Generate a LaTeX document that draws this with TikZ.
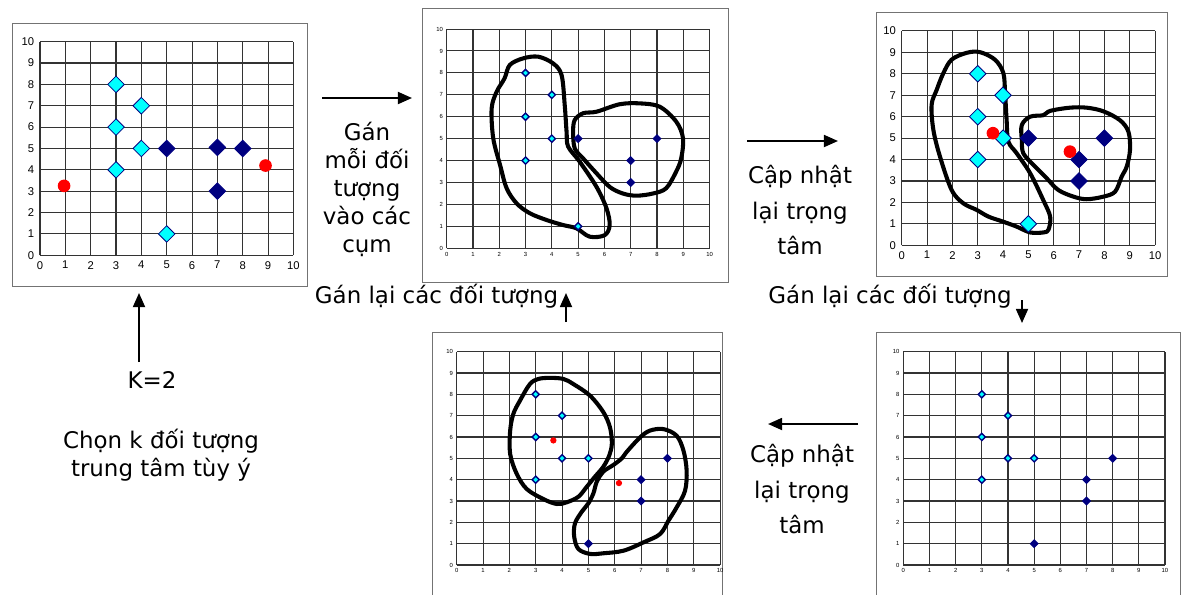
\documentclass[tikz,border=0pt]{standalone}
\usepackage{fontspec}
\setmainfont{DejaVu Sans}
\newfontfamily\tickfont{Liberation Sans}
\usetikzlibrary{shapes.geometric,arrows.meta}
\definecolor{navypt}{RGB}{0,0,128}
\definecolor{cyanpt}{RGB}{0,255,255}
\definecolor{redpt}{RGB}{255,0,0}
\tikzset{
  gridln/.style={black!80,line width=0.75pt},
  frm/.style={draw=black!55,line width=0.7pt},
  tick/.style={inner sep=0pt},
  bigcy/.style={diamond,draw=navypt,fill=cyanpt,line width=0.6pt,inner sep=0pt,minimum size=12pt},
  bignv/.style={bigcy,fill=navypt},
  bigctr/.style={circle,fill=redpt,inner sep=0pt,minimum size=9pt},
  smcy/.style={diamond,draw=navypt,fill=cyanpt,line width=1pt,inner sep=0pt,minimum size=5.5pt},
  smnv/.style={smcy,fill=navypt},
  smctr/.style={circle,fill=redpt,inner sep=0pt,minimum size=4.5pt},
  blob/.style={line width=2.9pt,line join=round},
  arr/.style={->,line width=1.4pt},
  lbl/.style={align=center,font=\fontsize{16.3}{20}\selectfont},
  lblwide/.style={align=center,font=\fontsize{16.3}{25.5}\selectfont},
}
% grid of one chart: #1 name, #2 tick font, #3 tick gap
\newcommand{\kgrid}[3]{%
  \foreach \i in {0,...,10}{
    \draw[gridln] (\i,0) -- (\i,10);
    \draw[gridln] (0,\i) -- (10,\i);
    \node[tick,font=#2,left=#3] (#1y\i) at (0,\i) {\i};
    \node[tick,font=#2,below=#3] (#1x\i) at (\i,0) {\i};
  }}
\newcommand{\bigfont}{\tickfont\fontsize{8}{8}\selectfont}
\newcommand{\smfont}{\tickfont\fontsize{4.2}{4.2}\selectfont}
\begin{document}
\begin{tikzpicture}[x=0.025cm,y=-0.025cm,>={Triangle[length=10pt,width=8.5pt]}]
\useasboundingbox (0,0) rectangle (1184,594);
% frames
\draw[frm] (12.7,23) rectangle (307.7,286.7);
\draw[frm] (422,8) rectangle (728,282);
\draw[frm] (876.7,12.7) rectangle (1167.7,276.7);
\draw[frm] (432.7,600) |- (722,332.7) -- (722,600);
\draw[frm] (876.7,600) |- (1180,332.7) -- (1180,600);
% chart 1: initial centres
\begin{scope}[shift={(40,255.3)},x=0.6333cm,y=0.534cm]
\kgrid{pa}{\bigfont}{4pt}
\foreach \px/\py [count=\k] in {3/8,4/7,3/6,4/5,3/4,5/1}{\node[bigcy] (pac\k) at (\px,\py) {};}
\foreach \px/\py [count=\k] in {5/5,7/5.05,8/5,7/3}{\node[bignv] (pan\k) at (\px,\py) {};}
\node[bigctr] (pam1) at (0.95,3.25) {};
\node[bigctr] (pam2) at (8.9,4.2) {};
\end{scope}
% chart 2: first assignment
\begin{scope}[shift={(446.7,248.3)},x=0.657cm,y=0.548cm]
\kgrid{pb}{\smfont}{2.5pt}
\draw[blob] plot[smooth cycle,tension=0.55] coordinates {(2.4,8.36) (2.9,8.66) (3.48,8.74) (4.05,8.43) (4.37,7.9) (4.49,6.53) (4.56,5.32) (4.62,4.64) (5.06,3.95) (5.7,2.8) (6.08,1.82) (6.2,1.06) (6.01,0.6) (5.44,0.53) (4.94,0.91) (4.43,1.06) (3.8,1.29) (3.16,1.6) (2.66,2.05) (2.28,2.74) (2.03,3.8) (1.77,5.02) (1.71,6.38) (1.9,7.14) (2.2,7.75)};
\draw[blob] plot[smooth cycle,tension=0.55] coordinates {(4.87,5.85) (5.19,6.16) (5.7,6.23) (6.58,6.57) (7.34,6.61) (8.1,6.46) (8.73,5.78) (8.99,5.02) (8.92,4.1) (8.73,3.5) (8.35,2.74) (7.85,2.5) (7.22,2.4) (6.7,2.5) (6.2,2.8) (5.7,3.42) (5.19,4.1) (4.87,4.56) (4.81,5.32)};
\foreach \px/\py [count=\k] in {3/8,4/7,3/6,4/5,3/4,5/1}{\node[smcy] (pbc\k) at (\px,\py) {};}
\foreach \px/\py [count=\k] in {5/5,7/4,7/3,8/5}{\node[smnv] (pbn\k) at (\px,\py) {};}
\end{scope}
% chart 3: updated centres
\begin{scope}[shift={(901.7,245.3)},x=0.6333cm,y=0.5358cm]
\kgrid{pc}{\bigfont}{4pt}
\draw[blob] plot[smooth cycle,tension=0.55] coordinates {(1.97,8.66) (2.57,8.98) (3.09,9.01) (3.68,8.66) (4.01,8.04) (4.08,7.1) (4.14,5.85) (4.21,4.84) (4.54,4.29) (5.07,3.36) (5.59,2.1) (5.86,1.33) (5.79,0.72) (5.59,0.6) (5.07,0.6) (4.54,0.87) (4.01,1.1) (3.42,1.34) (2.96,1.65) (2.43,1.96) (1.97,2.58) (1.51,4.14) (1.25,5.38) (1.18,6.55) (1.38,7.25) (1.64,8.02)};
\draw[blob] plot[smooth cycle,tension=0.55] coordinates {(4.74,5.61) (5.07,6.0) (5.59,6.07) (5.86,6.27) (6.64,6.42) (7.3,6.42) (7.96,6.25) (8.62,5.83) (8.95,5.29) (9.01,4.45) (8.88,3.67) (8.68,3.2) (8.42,2.5) (7.96,2.27) (7.3,2.15) (6.78,2.27) (6.18,2.58) (5.72,3.13) (5.2,3.75) (4.8,4.29) (4.74,4.9)};
\foreach \px/\py [count=\k] in {3/8,4/7,3/6,4/5,3/4,5/1}{\node[bigcy] (pcc\k) at (\px,\py) {};}
\foreach \px/\py [count=\k] in {5/5,7/4,7/3,8/5}{\node[bignv] (pcn\k) at (\px,\py) {};}
\node[bigctr] (pcm1) at (3.6,5.23) {};
\node[bigctr] (pcm2) at (6.64,4.37) {};
\end{scope}
% chart 4: reassigned, new centres
\begin{scope}[shift={(456.7,565)},x=0.6583cm,y=0.5333cm]
\kgrid{pd}{\smfont}{2.5pt}
\draw[blob] plot[smooth cycle,tension=0.55] coordinates {(2.03,6.3) (2.15,7.08) (2.4,7.7) (2.78,8.48) (3.1,8.72) (3.54,8.77) (4.05,8.72) (4.43,8.48) (5.06,7.94) (5.57,7.16) (5.82,6.45) (5.89,5.7) (5.8,5.16) (5.57,4.61) (5.25,4.14) (4.94,3.67) (4.62,3.2) (4.18,2.94) (3.8,2.86) (3.29,3.09) (2.66,3.56) (2.28,4.27) (2.03,5.2)};
\draw[blob] plot[smooth cycle,tension=0.55] coordinates {(6.46,5.31) (6.96,5.98) (7.34,6.3) (7.85,6.37) (8.35,6.06) (8.61,5.36) (8.73,4.42) (8.67,3.48) (8.35,2.7) (8.04,2.08) (7.72,1.45) (7.09,1.06) (6.33,0.67) (5.57,0.55) (5.06,0.52) (4.62,0.75) (4.46,1.33) (4.49,1.95) (4.75,2.5) (5.0,2.89) (5.19,3.36) (5.32,3.91) (5.57,4.38) (5.95,4.69) (6.27,5.0)};
\foreach \px/\py [count=\k] in {3/8,4/7,3/6,4/5,5/5,3/4}{\node[smcy] (pdc\k) at (\px,\py) {};}
\foreach \px/\py [count=\k] in {7/4,7/3,8/5,5/1}{\node[smnv] (pdn\k) at (\px,\py) {};}
\node[smctr] (pdm1) at (3.67,5.84) {};
\node[smctr] (pdm2) at (6.16,3.84) {};
\end{scope}
% chart 5: reassigned objects
\begin{scope}[shift={(903.3,565)},x=0.654cm,y=0.5333cm]
\kgrid{pe}{\smfont}{2.5pt}
\foreach \px/\py [count=\k] in {3/8,4/7,3/6,4/5,5/5,3/4}{\node[smcy] (pec\k) at (\px,\py) {};}
\foreach \px/\py [count=\k] in {7/4,7/3,8/5,5/1}{\node[smnv] (pen\k) at (\px,\py) {};}
\end{scope}
% step arrows
\coordinate (a1s) at (322,98);   \coordinate (a1e) at (412,98);
\coordinate (a2s) at (566,322);  \coordinate (a2e) at (566,293);
\coordinate (a3s) at (747,141);  \coordinate (a3e) at (838,141);
\coordinate (a4s) at (1022,300); \coordinate (a4e) at (1022,323);
\coordinate (a5s) at (858,424);  \coordinate (a5e) at (768,424);
\coordinate (a6s) at (139,362);  \coordinate (a6e) at (139,293);
\foreach \A/\B in {a1s/a1e,a2s/a2e,a3s/a3e,a4s/a4e,a5s/a5e,a6s/a6e}{\draw[arr] (\A) -- (\B);}
% step labels
\node[lbl] (gan) at (367,189.5) {Gán\\mỗi đối\\tượng\\vào các\\cụm};
\node[lbl,anchor=base] (ganlai1) at (436.5,303) {Gán lại các đối tượng};
\node[lbl,anchor=base] (ganlai2) at (890,303) {Gán lại các đối tượng};
\node[lblwide] (capnhat1) at (800,210) {Cập nhật\\lại trọng\\tâm};
\node[lblwide] (capnhat2) at (802,489) {Cập nhật\\lại trọng\\tâm};
\node[lbl] (kval) at (152,380) {K=2};
\node[lbl] (chon) at (161,455) {Chọn k đối tượng\\trung tâm tùy ý};
\end{tikzpicture}
\end{document}
